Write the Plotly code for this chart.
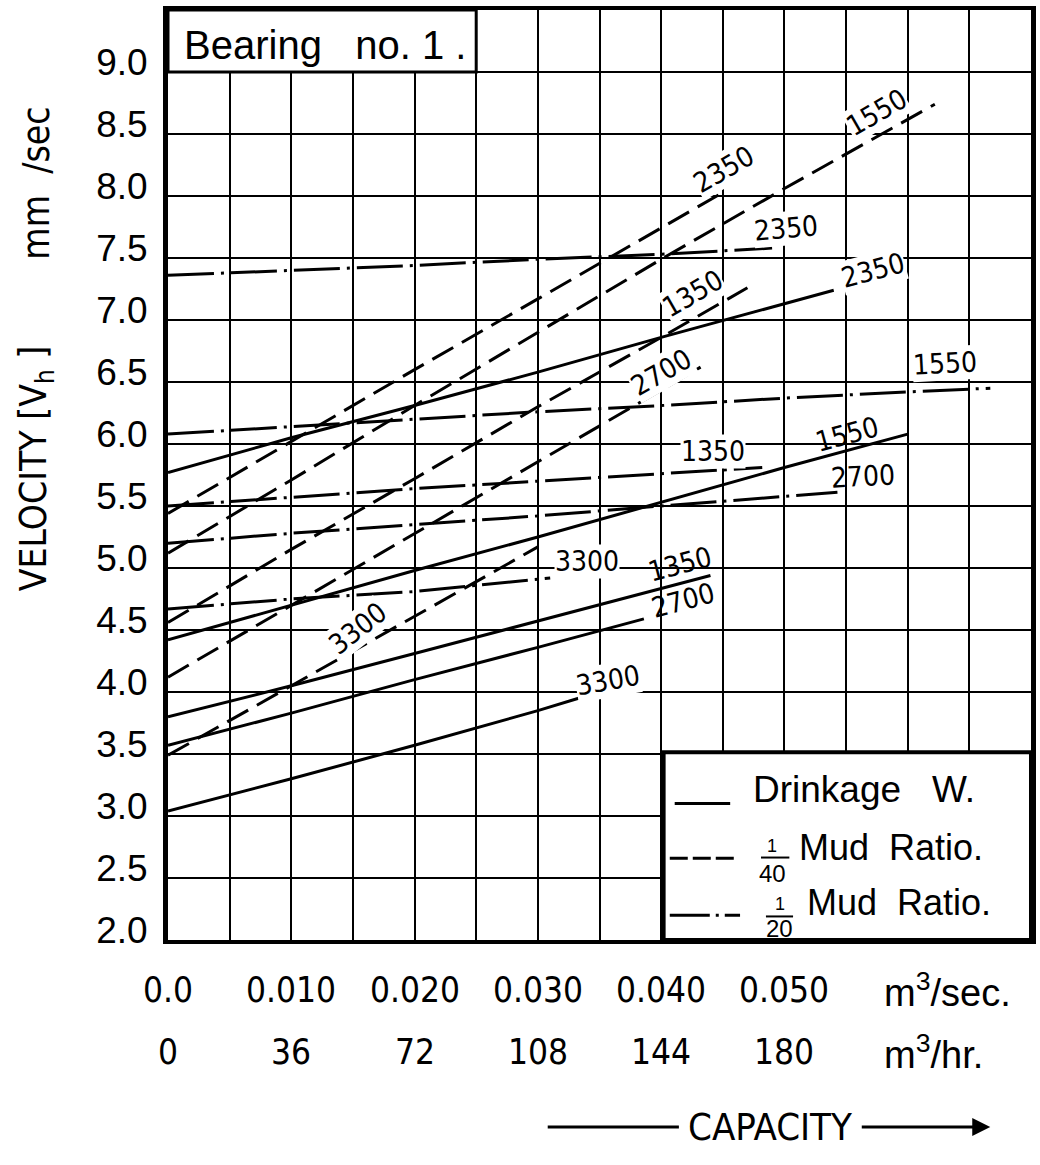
import plotly.graph_objects as go

# ---------------- data ----------------
x_ticks = [0.0, 0.01, 0.02, 0.03, 0.04, 0.05]
x_labels_sec = ["0.0", "0.010", "0.020", "0.030", "0.040", "0.050"]
x_labels_hr = ["0", "36", "72", "108", "144", "180"]
y_ticks = [2.0, 2.5, 3.0, 3.5, 4.0, 4.5, 5.0, 5.5, 6.0, 6.5, 7.0, 7.5, 8.0, 8.5, 9.0]
y_labels = ["2.0", "2.5", "3.0", "3.5", "4.0", "4.5", "5.0", "5.5", "6.0",
            "6.5", "7.0", "7.5", "8.0", "8.5", "9.0"]

# Drinkage W. (solid)
dw_2350_x = [0, 0.010, 0.020, 0.030, 0.040, 0.054]
dw_2350_y = [5.77, 6.05, 6.31, 6.58, 6.86, 7.24]
dw_1550_x = [0, 0.010, 0.020, 0.030, 0.040, 0.050, 0.060]
dw_1550_y = [4.42, 4.70, 4.98, 5.25, 5.53, 5.81, 6.08]
dw_1350_x = [0, 0.010, 0.020, 0.030, 0.044]
dw_1350_y = [3.80, 4.05, 4.31, 4.57, 4.94]
dw_2700_x = [0, 0.010, 0.020, 0.030, 0.0386]
dw_2700_y = [3.57, 3.83, 4.10, 4.36, 4.59]
dw_3300_x = [0, 0.010, 0.020, 0.030, 0.0333]
dw_3300_y = [3.04, 3.30, 3.57, 3.85, 3.95]

# 1/40 Mud Ratio (dashed)
m40_2350_x = [0, 0.010, 0.020, 0.030, 0.040, 0.0452]
m40_2350_y = [5.44, 6.02, 6.60, 7.17, 7.74, 8.04]
m40_1550_x = [0, 0.010, 0.020, 0.030, 0.040, 0.050, 0.0622]
m40_1550_y = [5.12, 5.71, 6.31, 6.90, 7.49, 8.06, 8.74]
m40_1350_x = [0, 0.010, 0.020, 0.030, 0.040, 0.047]
m40_1350_y = [4.56, 5.15, 5.72, 6.30, 6.86, 7.26]
m40_2700_x = [0, 0.010, 0.020, 0.030, 0.040, 0.0432]
m40_2700_y = [4.12, 4.70, 5.28, 5.86, 6.44, 6.62]
m40_3300_x = [0, 0.010, 0.020, 0.030]
m40_3300_y = [3.49, 4.05, 4.61, 5.17]

# 1/20 Mud Ratio (dash-dot)
m20_2350_x = [0, 0.010, 0.020, 0.030, 0.040, 0.049]
m20_2350_y = [7.36, 7.40, 7.44, 7.49, 7.53, 7.58]
m20_1550_x = [0, 0.010, 0.020, 0.030, 0.040, 0.050, 0.060, 0.0667]
m20_1550_y = [6.08, 6.14, 6.20, 6.26, 6.31, 6.37, 6.42, 6.45]
m20_1350_x = [0, 0.010, 0.020, 0.030, 0.040, 0.0482]
m20_1350_y = [5.50, 5.57, 5.64, 5.70, 5.76, 5.81]
m20_2700_x = [0, 0.010, 0.020, 0.030, 0.040, 0.0543]
m20_2700_y = [5.20, 5.28, 5.35, 5.42, 5.50, 5.61]
m20_3300_x = [0, 0.010, 0.020, 0.031]
m20_3300_y = [4.67, 4.75, 4.81, 4.92]

# curve labels: text, x, y, angle, white background
dw_labels = [("2350", 0.0572, 7.40, -15, True), ("1550", 0.0551, 6.08, -15, False),
             ("1350", 0.0415, 5.03, -15, False), ("2700", 0.0418, 4.74, -15, False),
             ("3300", 0.0357, 4.09, -10, True)]
m40_labels = [("1550", 0.0575, 8.67, -30, True), ("2350", 0.0451, 8.21, -30, True),
              ("1350", 0.0426, 7.21, -30, True), ("2700", 0.0400, 6.58, -30, True),
              ("3300", 0.0154, 4.51, -38, True)]
m20_labels = [("2350", 0.0501, 7.74, -5, True), ("1550", 0.0630, 6.65, -3, True),
              ("1350", 0.0442, 5.94, 0, True), ("2700", 0.0564, 5.74, -3, False),
              ("3300", 0.0340, 5.05, 0, True)]

# ---------------- styling ----------------
COND = "DejaVu Sans Condensed, Liberation Sans Narrow, Liberation Sans, sans-serif"
REG = "Liberation Sans, Arial, sans-serif"
DASH40 = "24px,10px"
DASH20 = "46px,7px,3px,7px"

fig = go.Figure()

def add_line(xs, ys, dash):
    fig.add_trace(go.Scatter(x=xs, y=ys, mode="lines", hoverinfo="skip",
                             line=dict(color="black", width=3, dash=dash)))

for xs, ys in [(dw_2350_x, dw_2350_y), (dw_1550_x, dw_1550_y), (dw_1350_x, dw_1350_y),
               (dw_2700_x, dw_2700_y), (dw_3300_x, dw_3300_y)]:
    add_line(xs, ys, "solid")
for xs, ys in [(m40_2350_x, m40_2350_y), (m40_1550_x, m40_1550_y), (m40_1350_x, m40_1350_y),
               (m40_2700_x, m40_2700_y), (m40_3300_x, m40_3300_y)]:
    add_line(xs, ys, DASH40)
for xs, ys in [(m20_2350_x, m20_2350_y), (m20_1550_x, m20_1550_y), (m20_1350_x, m20_1350_y),
               (m20_2700_x, m20_2700_y), (m20_3300_x, m20_3300_y)]:
    add_line(xs, ys, DASH20)

def text(t, x, y, size, family=COND, xref="x", yref="y", xa="center", ya="middle", **kw):
    d = dict(text=t, x=x, y=y, xref=xref, yref=yref, xanchor=xa, yanchor=ya,
             showarrow=False, font=dict(family=family, size=size, color="black"))
    d.update(kw)
    return d

ann = []
for txt, x, y, ang, bg in dw_labels + m40_labels + m20_labels:
    ann.append(text(txt, x, y, 28, textangle=ang,
                    bgcolor="white" if bg else "rgba(0,0,0,0)", borderpad=0))

# bottom tick label rows
for xv, t1, t2 in zip(x_ticks, x_labels_sec, x_labels_hr):
    ann.append(text(t1, xv, 0, 35, yref="paper", yshift=-50))
    ann.append(text(t2, xv, 0, 35, yref="paper", yshift=-112))
ann.append(text("m<sup>3</sup>/sec.", 0.0579, 0, 38, family=REG, yref="paper",
                yshift=-50, xa="left"))
ann.append(text("m<sup>3</sup>/hr.", 0.0579, 0, 38, family=REG, yref="paper",
                yshift=-112, xa="left"))
# CAPACITY arrow label
ann.append(text("CAPACITY", 0.698, 0, 38, xref="paper", yref="paper", yshift=-187))
ann.append(dict(text="", x=0.9528, y=0, xref="paper", yref="paper", yshift=-187,
                ax=-130, ay=0, showarrow=True, arrowhead=2, arrowsize=1.2,
                arrowwidth=3, arrowcolor="black"))

# y axis title pieces
ann.append(text("VELOCITY [V<sub>h</sub> ]", -0.152, 0.507, 37, xref="paper",
                yref="paper", textangle=-90))
ann.append(text("mm\u00a0\u00a0/sec", -0.152, 0.814, 37, xref="paper",
                yref="paper", textangle=-90))

# Bearing title
ann.append(text("Bearing\u00a0\u00a0\u00a0no.\u00a01\u00a0.", 0.0127, 9.22, 40, family=REG))

# legend texts
ann.append(text("Drinkage\u00a0\u00a0\u00a0W.", 0.0473, 3.21, 37, family=REG, xa="left"))
ann.append(text("Mud\u00a0\u00a0Ratio.", 0.0510, 2.75, 36, family=REG, xa="left"))
ann.append(text("Mud\u00a0\u00a0Ratio.", 0.0517, 2.30, 36, family=REG, xa="left"))
for t, x, y, s in [("1", 0.0490, 2.76, 18), ("40", 0.0490, 2.54, 24),
                   ("1", 0.0496, 2.29, 18), ("20", 0.0496, 2.09, 24)]:
    ann.append(text(t, x, y, s, family=REG))

shapes = [
    # Bearing box
    dict(type="rect", xref="x", yref="y", x0=0, x1=0.025, y0=9.0, y1=9.5,
         fillcolor="white", line=dict(color="black", width=3), layer="above"),
    # legend box
    dict(type="rect", xref="x", yref="y", x0=0.0402, x1=0.07, y0=2.0, y1=3.515,
         fillcolor="white", line=dict(color="black", width=4), layer="above"),
    # legend samples
    dict(type="line", xref="x", yref="y", x0=0.0411, x1=0.0456, y0=3.10, y1=3.10,
         line=dict(color="black", width=3), layer="above"),
    dict(type="line", xref="x", yref="y", x0=0.0407, x1=0.0461, y0=2.66, y1=2.66,
         line=dict(color="black", width=3, dash="18px,5px"), layer="above"),
    dict(type="line", xref="x", yref="y", x0=0.0407, x1=0.0464, y0=2.20, y1=2.20,
         line=dict(color="black", width=3, dash="40px,6px,3px,6px"), layer="above"),
    # fraction bars
    dict(type="line", xref="x", yref="y", x0=0.0481, x1=0.0504, y0=2.665, y1=2.665,
         line=dict(color="black", width=2), layer="above"),
    dict(type="line", xref="x", yref="y", x0=0.0485, x1=0.0507, y0=2.19, y1=2.19,
         line=dict(color="black", width=2), layer="above"),
    # capacity arrow tail
    dict(type="line", xref="paper", yref="paper", x0=0.440, x1=0.592,
         y0=-187 / 930, y1=-187 / 930, line=dict(color="black", width=3)),
]

fig.update_layout(
    width=1040, height=1165,
    margin=dict(l=168, r=4, t=10, b=225),
    paper_bgcolor="white", plot_bgcolor="white",
    showlegend=False,
    xaxis=dict(range=[0, 0.07], tick0=0, dtick=0.005, showgrid=True, gridcolor="black",
               gridwidth=2, showticklabels=False, ticks="", zeroline=False,
               showline=True, linecolor="black", linewidth=4, mirror=True),
    yaxis=dict(range=[2.0, 9.5], tickvals=y_ticks, ticktext=y_labels, showgrid=True,
               gridcolor="black", gridwidth=2, ticks="", zeroline=False,
               showline=True, linecolor="black", linewidth=5, mirror=True,
               ticklabelstandoff=8, ticklabelshift=-10,
               tickfont=dict(family=REG, size=37, color="black")),
    annotations=ann,
    shapes=shapes,
)

fig.write_html("out.html")
